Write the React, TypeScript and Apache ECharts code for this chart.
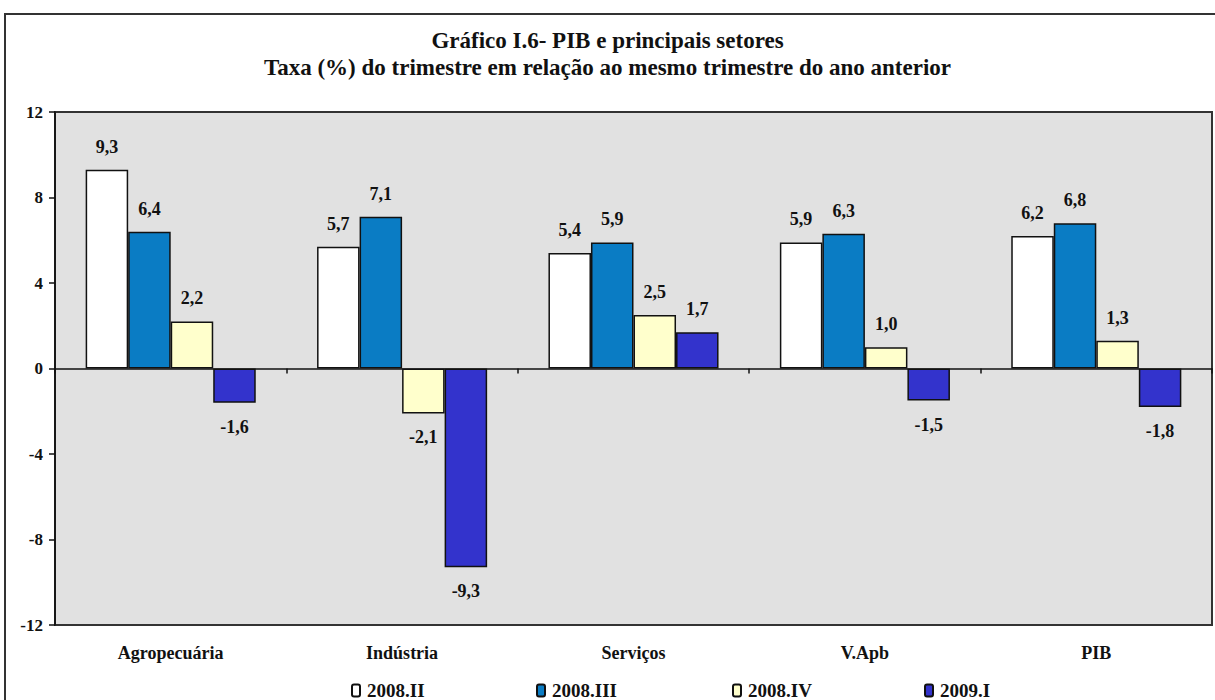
import React, { useEffect, useRef } from "react";
import * as echarts from "echarts";

const categories = ["Agropecuária", "Indústria", "Serviços", "V.Apb", "PIB"];
const seriesNames = ["2008.II", "2008.III", "2008.IV", "2009.I"];
const s2008II = [9.3, 5.7, 5.4, 5.9, 6.2];
const s2008III = [6.4, 7.1, 5.9, 6.3, 6.8];
const s2008IV = [2.2, -2.1, 2.5, 1.0, 1.3];
const s2009I = [-1.6, -9.3, 1.7, -1.5, -1.8];
const seriesColors = ["#ffffff", "#0a7cc4", "#ffffcc", "#3333cc"];
const titleLines = [
  "Gráfico I.6- PIB e principais setores",
  "Taxa (%) do trimestre em relação ao mesmo trimestre do ano anterior",
];

const FONT = "'Liberation Serif', 'Times New Roman', serif";
const legendLefts = [346, 531, 727, 919];

export default function App() {
  const ref = useRef<HTMLDivElement>(null);
  useEffect(() => {
    if (!ref.current) return;
    const chart = echarts.init(ref.current, undefined, { renderer: "svg" });
    const allData = [s2008II, s2008III, s2008IV, s2009I];
    chart.setOption({
      animation: false,
      backgroundColor: "#ffffff",
      textStyle: { fontFamily: FONT },
      graphic: [
        {
          type: "polyline",
          shape: { points: [[1240, 14], [5, 14], [5, 720]] },
          style: { fill: "none", stroke: "#333333", lineWidth: 2 },
          silent: true,
          z: 10,
        },
      ],
      title: {
        text: titleLines.join("\n"),
        left: "center",
        top: 22,
        textStyle: {
          fontFamily: FONT,
          fontWeight: "bold",
          fontSize: 23,
          lineHeight: 27,
          color: "#111",
        },
      },
      legend: seriesNames.map((n, i) => ({
        data: [n],
        left: legendLefts[i],
        top: 676,
        itemWidth: 8,
        itemHeight: 12,
        itemGap: 4,
        textStyle: { fontFamily: FONT, fontWeight: "bold", fontSize: 19, color: "#111", padding: [0, 0, 0, 2] },
      })),
      grid: {
        left: 55,
        right: 3,
        top: 112,
        bottom: 75,
        show: true,
        backgroundColor: "#e1e1e1",
        borderColor: "#333333",
        borderWidth: 2,
      },
      xAxis: [
        {
          type: "category",
          data: categories,
          axisLine: { onZero: true, lineStyle: { color: "#111", width: 1.5 } },
          axisTick: { show: true, length: 5, lineStyle: { color: "#111", width: 1.5 } },
          axisLabel: { show: false },
        },
        {
          type: "category",
          data: categories,
          position: "bottom",
          axisLine: { show: false },
          axisTick: { show: false },
          axisLabel: {
            margin: 19,
            fontFamily: FONT,
            fontWeight: "bold",
            fontSize: 18,
            color: "#111",
          },
        },
      ],
      yAxis: {
        type: "value",
        min: -12,
        max: 12,
        interval: 4,
        splitLine: { show: false },
        axisLine: { show: true, lineStyle: { color: "#111", width: 1.5 } },
        axisTick: { show: true, length: 6, lineStyle: { color: "#111", width: 1.5 } },
        axisLabel: {
          margin: 12,
          fontFamily: FONT,
          fontWeight: "bold",
          fontSize: 17,
          color: "#111",
        },
      },
      series: seriesNames.map((name, i) => ({
        name,
        type: "bar",
        xAxisIndex: 0,
        barGap: "0%",
        barCategoryGap: "26.5%",
        itemStyle: { color: seriesColors[i], borderColor: "#111", borderWidth: 1.5 },
        data: allData[i].map((v) => ({
          value: v,
          label: { position: v >= 0 ? "top" : "bottom", distance: v >= 0 ? 14 : 15 },
        })),
        label: {
          show: true,
          fontFamily: FONT,
          fontWeight: "bold",
          fontSize: 18,
          color: "#111",
          formatter: (p: any) => Number(p.value).toFixed(1).replace(".", ","),
        },
      })),
    });
    return () => chart.dispose();
  }, []);
  return (
    <div
      ref={ref}
      style={{ position: "absolute", left: 0, top: 0, width: 1215, height: 700 }}
    />
  );
}
